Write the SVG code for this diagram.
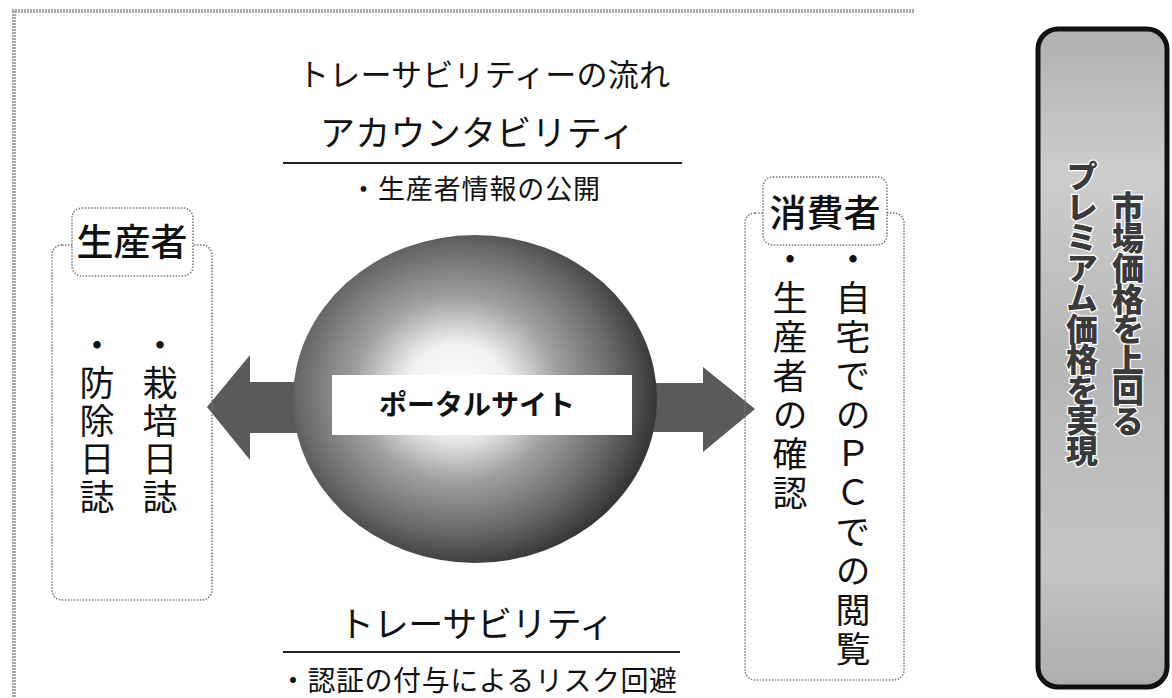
<svg xmlns="http://www.w3.org/2000/svg" width="1172" height="698" viewBox="0 0 1172 698">
<style>
.jp{font-family:"Noto Sans CJK JP","Noto Sans CJK SC",sans-serif;fill:#111}
.dot{fill:none;stroke:#777;stroke-width:1.5;stroke-dasharray:1.5 1.5}
.lbl{fill:#fff;stroke:#777;stroke-width:1.5;stroke-dasharray:1.5 1.5}
.vert{writing-mode:vertical-rl;font-family:"Noto Sans CJK JP","Noto Sans CJK SC",sans-serif;fill:#111}
.rule{stroke:#222;stroke-width:2}
.arrow{fill:#5a5a5a}
.big{writing-mode:vertical-rl;font-family:"Noto Sans CJK JP","Noto Sans CJK SC",sans-serif;font-weight:900;font-size:32px;fill:#3a3a3a;stroke:#fff;stroke-width:2.5;paint-order:stroke;letter-spacing:-1.5px}
</style>
<defs>
<radialGradient id="sphere" cx="0.45" cy="0.47" r="0.56" fx="0.45" fy="0.47">
<stop offset="0" stop-color="#ffffff"/>
<stop offset="0.25" stop-color="#f0f0f0"/>
<stop offset="0.5" stop-color="#a0a0a0"/>
<stop offset="0.78" stop-color="#686868"/>
<stop offset="1" stop-color="#333333"/>
</radialGradient>
<linearGradient id="panel" x1="0" y1="0" x2="0" y2="1">
<stop offset="0" stop-color="#b0b0b0"/>
<stop offset="0.22" stop-color="#cdcdcd"/>
<stop offset="0.5" stop-color="#b6b6b6"/>
<stop offset="0.82" stop-color="#c4c4c4"/>
<stop offset="1" stop-color="#adadad"/>
</linearGradient>
</defs>
<rect width="1172" height="698" fill="#fff"/>
<g id="frame">
<line x1="12" y1="11" x2="915" y2="11" stroke="#aaa" stroke-width="4" stroke-dasharray="2 1"/>
<line x1="14" y1="11" x2="14" y2="698" stroke="#aaa" stroke-width="4" stroke-dasharray="2 1"/>
</g>
<g id="headings">
<text class="jp" x="298" y="86" font-size="31" textLength="372" lengthAdjust="spacing">トレーサビリティーの流れ</text>
<text class="jp" x="320" y="146" font-size="35" textLength="315" lengthAdjust="spacing">アカウンタビリティ</text>
<line class="rule" x1="283" y1="163" x2="682" y2="163"/>
<text class="jp" x="350" y="199" font-size="27" textLength="250" lengthAdjust="spacing">・生産者情報の公開</text>
<text class="jp" x="339" y="637" font-size="35" textLength="275" lengthAdjust="spacing">トレーサビリティ</text>
<line class="rule" x1="283" y1="652" x2="680" y2="652"/>
<text class="jp" x="279" y="691" font-size="28" textLength="398" lengthAdjust="spacing">・認証の付与によるリスク回避</text>
</g>
<g id="connectors">
<path class="arrow" d="M310,382 L250,382 L250,355 L207,407 L250,460 L250,433 L310,433 Z"/>
<path class="arrow" d="M640,383 L703,383 L703,367 L755,409 L703,452 L703,432 L640,432 Z"/>
</g>
<g id="node-portal">
<ellipse cx="475" cy="399" rx="182" ry="164" fill="url(#sphere)"/>
<rect x="332" y="375" width="300" height="60" fill="#fff"/>
<text class="jp" x="477" y="415" font-size="28" font-weight="bold" text-anchor="middle">ポータルサイト</text>
</g>
<g id="node-producer">
<rect class="dot" x="52" y="245" width="160" height="355" rx="10"/>
<rect class="lbl" x="72" y="208" width="121" height="68" rx="10"/>
<text class="jp" x="132" y="256" font-size="37" font-weight="500" text-anchor="middle">生産者</text>
<text class="vert" x="160" y="327" font-size="35" letter-spacing="3">・栽培日誌</text>
<text class="vert" x="97" y="327" font-size="35" letter-spacing="3">・防除日誌</text>
</g>
<g id="node-consumer">
<rect class="dot" x="745" y="213" width="159" height="467" rx="10"/>
<rect class="lbl" x="763" y="177" width="124" height="68" rx="10"/>
<text class="jp" x="825" y="227" font-size="37" font-weight="500" text-anchor="middle">消費者</text>
<text class="vert" x="853" y="241" font-size="35" letter-spacing="4">・自宅でのＰＣでの閲覧</text>
<text class="vert" x="790" y="241" font-size="35" letter-spacing="4">・生産者の確認</text>
</g>
<g id="node-premium">
<rect x="1038" y="29" width="129" height="658" rx="20" fill="url(#panel)" stroke="#111" stroke-width="5"/>
<text class="big" x="1128" y="191">市場価格を上回る</text>
<text class="big" x="1082" y="160">プレミアム価格を実現</text>
</g>
</svg>
